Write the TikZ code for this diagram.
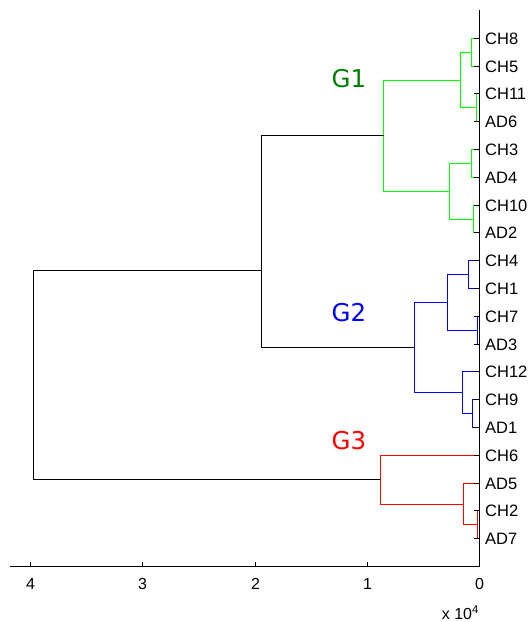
\documentclass[tikz,border=0pt]{standalone}
\usepackage{fontspec}
\setmainfont{Liberation Sans}
\newfontfamily\glabelfont{DejaVu Sans}
\definecolor{gline}{RGB}{0,255,0}
\definecolor{bline}{RGB}{0,0,255}
\definecolor{rline}{RGB}{255,0,0}
\definecolor{gtext}{RGB}{0,128,0}
\begin{document}
\begin{tikzpicture}[x=1pt,y=-1pt,
  link/.style={line width=1.05pt},
  axisline/.style={line width=1pt, draw=black},
  leaflabel/.style={anchor=west, inner sep=0pt, font=\fontsize{16.5}{19}\selectfont},
  ticklabel/.style={anchor=center, inner sep=0pt, font=\fontsize{16}{19}\selectfont},
  grouplabel/.style={inner sep=0pt, font=\glabelfont\fontsize{24.5}{28}\selectfont},
]
\useasboundingbox (0,0) rectangle (531,622);

% leaves
\coordinate (CH8)  at (479.5,38.5);
\coordinate (CH5)  at (479.5,66.5);
\coordinate (CH11) at (479.5,93.5);
\coordinate (AD6)  at (479.5,121.5);
\coordinate (CH3)  at (479.5,149.5);
\coordinate (AD4)  at (479.5,177.5);
\coordinate (CH10) at (479.5,205.5);
\coordinate (AD2)  at (479.5,232.5);
\coordinate (CH4)  at (479.5,260.5);
\coordinate (CH1)  at (479.5,288.5);
\coordinate (CH7)  at (479.5,316.5);
\coordinate (AD3)  at (479.5,344.5);
\coordinate (CH12) at (479.5,371.5);
\coordinate (CH9)  at (479.5,399.5);
\coordinate (AD1)  at (479.5,427.5);
\coordinate (CH6)  at (479.5,455.5);
\coordinate (AD5)  at (479.5,483.5);
\coordinate (CH2)  at (479.5,510.5);
\coordinate (AD7)  at (479.5,538.5);

% internal merge points
\coordinate (n1)  at (471.5,52.5);
\coordinate (n2)  at (476.5,107.5);
\coordinate (n3)  at (460.5,80.5);
\coordinate (n4)  at (471.5,163.5);
\coordinate (n5)  at (473.5,219.5);
\coordinate (n6)  at (449.5,191.5);
\coordinate (G1)  at (383.5,135.5);
\coordinate (n7)  at (468.5,274.5);
\coordinate (n8)  at (477.5,330.5);
\coordinate (n9)  at (447.5,302.5);
\coordinate (n10) at (472.5,413.5);
\coordinate (n11) at (462.5,392.5);
\coordinate (G2)  at (414.5,347.5);
\coordinate (n12) at (477.5,524.5);
\coordinate (n13) at (463.5,504.5);
\coordinate (G3)  at (380.5,479.5);
\coordinate (G12) at (261.5,270.5);
\coordinate (root) at (33.5,375.5);

% group 1 (green)
\begin{scope}[link, draw=gline]
\draw (CH8) -| (n1) |- (CH5);
\draw (CH11) -| (n2) |- (AD6);
\draw (n1) -| (n3) |- (n2);
\draw (CH3) -| (n4) |- (AD4);
\draw (CH10) -| (n5) |- (AD2);
\draw (n4) -| (n6) |- (n5);
\draw (n3) -| (G1) |- (n6);
\end{scope}
% group 2 (blue)
\begin{scope}[link, draw=bline]
\draw (CH4) -| (n7) |- (CH1);
\draw (CH7) -| (n8) |- (AD3);
\draw (n7) -| (n9) |- (n8);
\draw (CH9) -| (n10) |- (AD1);
\draw (CH12) -| (n11) |- (n10);
\draw (n9) -| (G2) |- (n11);
\end{scope}
% group 3 (red)
\begin{scope}[link, draw=rline]
\draw (CH2) -| (n12) |- (AD7);
\draw (AD5) -| (n13) |- (n12);
\draw (CH6) -| (G3) |- (n13);
\end{scope}
% top links (black)
\begin{scope}[link, draw=black]
\draw (G1) -| (G12) |- (G2);
\draw (G12) -| (root) |- (G3);
\end{scope}

% axes
\coordinate (axleft) at (10,566.5);
\coordinate (origin) at (479.5,566.5);
\coordinate (axtop) at (479.5,10);
\draw[axisline] (axleft) -- (origin) -- (axtop);

% y ticks
\foreach \l in {CH8,CH5,CH11,AD6,CH3,AD4,CH10,AD2,CH4,CH1,CH7,AD3,CH12,CH9,AD1,CH6,AD5,CH2,AD7}
  \draw[axisline] (\l) -- ++(-6,0);

% leaf labels
\foreach \l in {CH8,CH5,CH11,AD6,CH3,AD4,CH10,AD2,CH4,CH1,CH7,AD3,CH12,CH9,AD1,CH6,AD5,CH2,AD7}
  \node[leaflabel] (lab\l) at ([xshift=5.5pt]\l) {\l};

% x ticks
\coordinate (xt4) at (30.5,566.5);
\coordinate (xt3) at (142.5,566.5);
\coordinate (xt2) at (255.5,566.5);
\coordinate (xt1) at (367.5,566.5);
\coordinate (xt0) at (479.5,566.5);
\foreach \t/\v in {xt4/4,xt3/3,xt2/2,xt1/1,xt0/0}{
  \draw[axisline] (\t) -- ++(0,-4.5);
  \node[ticklabel] (lab\t) at ([yshift=-17.3pt]\t) {\v};
}
\node[ticklabel, anchor=base east] (scale) at (479,619.5) {x 10\textsuperscript{4}};

% group labels
\node[grouplabel, text=gtext] (labG1) at (349,78.3) {G1};
\node[grouplabel, text=bline] (labG2) at (349,312.5) {G2};
\node[grouplabel, text=rline] (labG3) at (349,440.5) {G3};
\end{tikzpicture}
\end{document}
